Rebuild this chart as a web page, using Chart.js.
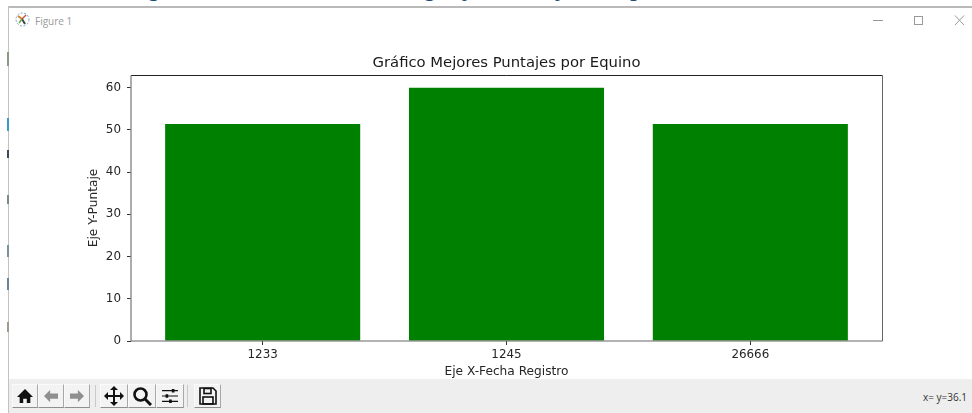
<!DOCTYPE html>
<html><head><meta charset="utf-8">
<script src="https://cdn.jsdelivr.net/npm/chart.js@4"></script>
<style>
html,body{margin:0;padding:0;background:#fff;overflow:hidden}
body{width:972px;height:413px;position:relative;font-family:"DejaVu Sans",sans-serif}
.abs{position:absolute}
#frameTop{left:8px;top:6px;width:964px;height:1.5px;background:#b9b9b9}
#frameLeft{left:7.5px;top:6px;width:1.5px;height:407px;background:#c2c2c2}
#heading{left:0;top:0;width:972px;height:6px;overflow:hidden}
#heading span{position:absolute;top:-29px;font:italic 27px "Liberation Serif",serif;color:#1f4e79}
#chartBox{left:41px;top:0;width:931px;height:379px}
#toolbar{left:9px;top:379px;width:963px;height:34px;background:#eeeeee}
#winTitle{left:35px;top:14px;font:10px "Open Sans",sans-serif;color:#9a9a9a}
#status{right:5px;top:390px;font:10px "Open Sans",sans-serif;color:#333}
.btn{position:absolute;top:384px;height:24px;background:#f3f3f3;border-top:1px solid #fafafa;border-left:1px solid #fafafa;border-right:1px solid #a8a8a8;border-bottom:1px solid #8e8e8e;box-sizing:border-box}
.btn svg{position:absolute;left:50%;top:50%;transform:translate(-50%,-50%)}
.sep{position:absolute;top:385px;width:1px;height:22px;background:#c9c9c9}
</style></head><body>
<div class="abs" id="heading"><span style="left:149px">g</span><span style="left:425px">g</span><span style="left:465px">j</span><span style="left:558px">j</span><span style="left:632px">p</span></div>
<div class="abs" id="frameTop"></div><div class="abs" id="frameLeft"></div>
<div class="abs" style="left:7px;top:52px;width:2px;height:14px;background:#8a9a84"></div>
<div class="abs" style="left:7px;top:118px;width:2px;height:13px;background:#3a9ac8"></div>
<div class="abs" style="left:7px;top:150px;width:2px;height:8px;background:#3b4a5a"></div>
<div class="abs" style="left:7px;top:195px;width:2px;height:9px;background:#7c8a88"></div>
<div class="abs" style="left:7px;top:245px;width:2px;height:12px;background:#7e909c"></div>
<div class="abs" style="left:7px;top:278px;width:2px;height:12px;background:#6f8596"></div>
<div class="abs" style="left:7px;top:322px;width:2px;height:10px;background:#a09a90"></div>
<svg class="abs" style="left:15px;top:12px" width="15" height="15" viewBox="0 0 15 15"><circle cx="7.5" cy="7.5" r="6.5" fill="#fff" stroke="#7aa6c8" stroke-dasharray="2 1.5"/><path d="M7 7L3 4" stroke="#d9822b" stroke-width="2"/><path d="M7 7L11 3" stroke="#c8553d" stroke-width="1.5"/><path d="M7 7L10 12" stroke="#444" stroke-width="2"/><path d="M7 7L4 11" stroke="#6aa84f" stroke-width="1.5"/></svg>
<div class="abs" id="winTitle">Figure 1</div>
<svg class="abs" style="left:870px;top:12px" width="96" height="16" fill="none" stroke="#9a9a9a"><path d="M3 8.5H13"/><rect x="44.5" y="4.5" width="8" height="8"/><path d="M85 3.5L94 13M94 3.5L85 13"/></svg>
<div class="abs" id="chartBox"><canvas id="c" width="931" height="379" style="width:931px;height:379px;display:block"></canvas></div>
<div class="abs" id="toolbar"></div>
<div class="btn" style="left:12px;width:26px"><svg width="18" height="16" viewBox="0 0 20 18"><path d="M10 1L1 10h3v7h4v-5h4v5h4v-7h3z" fill="#111"/></svg></div>
<div class="btn" style="left:38px;width:26px"><svg width="18" height="14" viewBox="0 0 20 16"><path d="M9 1L2 8l7 7v-4h9V5H9z" fill="#8f8f8f"/></svg></div>
<div class="btn" style="left:64px;width:26px"><svg width="18" height="14" viewBox="0 0 20 16"><path d="M11 1l7 7-7 7v-4H2V5h9z" fill="#8f8f8f"/></svg></div>
<div class="sep" style="left:95px"></div>
<div class="btn" style="left:100px;width:28px"><svg width="20" height="20" viewBox="0 0 20 20" fill="#111"><path d="M10 0l4 4h-3v5h5V6l4 4-4 4v-3h-5v5h3l-4 4-4-4h3v-5H4v3l-4-4 4-4v3h5V4H6z"/></svg></div>
<div class="btn" style="left:128px;width:28px"><svg width="20" height="20" viewBox="0 0 20 20" fill="none" stroke="#111"><circle cx="8.5" cy="8.5" r="6" stroke-width="2.6"/><path d="M13 13l6 6" stroke-width="3"/></svg></div>
<div class="btn" style="left:156px;width:28px"><svg width="18" height="16" viewBox="0 0 20 18" stroke="#111"><path d="M1 3h18M1 9h18M1 15h18" stroke-width="1.3"/><path d="M12 3h3M5 9h3M9 15h3" stroke-width="4"/></svg></div>
<div class="sep" style="left:187px"></div>
<div class="btn" style="left:194px;width:27px"><svg width="18" height="18" viewBox="0 0 18 18" fill="none" stroke="#111" stroke-width="1.6"><path d="M2 1h12l3 3v13H1V1z"/><rect x="5" y="1.5" width="7" height="5"/><rect x="4" y="10" width="10" height="7"/></svg></div>
<div class="abs" id="status">x= y=36.1</div>
<script>
const categories = ["1233", "1245", "26666"];
const scores = [51.4, 60, 51.4];
const yTicks = [0, 10, 20, 30, 40, 50, 60];
const chartTitle = "Gráfico Mejores Puntajes por Equino";
const xTitle = "Eje X-Fecha Registro";
const yTitle = "Eje Y-Puntaje";

const family = '"DejaVu Sans", sans-serif';
const tickFont = {family, size: 11.9};
const labelFont = {family, size: 12.2};
const ink = "#262626";
const frame = {
  id: "frame",
  afterDatasetsDraw(chart) {
    const {ctx, chartArea: a} = chart;
    const top = Math.round(a.top) + 0.5, right = Math.round(a.right) + 0.5;
    const line = (x1, y1, x2, y2, color, w) => {
      ctx.save(); ctx.strokeStyle = color; ctx.lineWidth = w;
      ctx.beginPath(); ctx.moveTo(x1, y1); ctx.lineTo(x2, y2); ctx.stroke(); ctx.restore();
    };
    line(a.left, top, right, top, "#222", 1);
    line(right, top, right, a.bottom, "#666", 1);
    line(a.left, top, a.left, a.bottom, "#8a8a8a", 1.4);
    line(a.left, a.bottom, right, a.bottom, "#666", 1.2);
  }
};
new Chart(document.getElementById("c"), {
  type: "bar",
  data: {datasets: [{
    data: scores.map((v, i) => ({x: i, y: v})),
    backgroundColor: "#008000",
    borderWidth: 0,
    barPercentage: 0.8,
    categoryPercentage: 1
  }]},
  plugins: [frame],
  options: {
    responsive: false,
    animation: false,
    layout: {padding: 0},
    plugins: {
      legend: {display: false},
      tooltip: {enabled: false},
      title: {display: true, text: chartTitle, color: "#1a1a1a",
              font: {family, size: 14.8, weight: "normal"},
              padding: {top: 54, bottom: 3.24}}
    },
    scales: {
      x: {
        type: "linear", offset: false, min: -0.54, max: 2.54,
        afterBuildTicks: s => { s.ticks = categories.map((_, i) => ({value: i})); },
        ticks: {callback: v => categories[v], color: ink, font: tickFont, padding: 3, maxRotation: 0},
        grid: {drawOnChartArea: false, offset: false, tickLength: 4, tickColor: "#333"},
        border: {display: false},
        title: {display: true, text: xTitle, color: ink, font: labelFont, padding: {top: 3, bottom: 0}},
        afterFit: s => { s.height = 38; }
      },
      y: {
        min: 0, max: 63,
        afterBuildTicks: s => { s.ticks = yTicks.map(v => ({value: v})); },
        ticks: {color: ink, font: tickFont, padding: 6},
        grid: {drawOnChartArea: false, tickLength: 4, tickColor: "#333"},
        border: {display: false},
        title: {display: true, text: yTitle, color: ink, font: labelFont, padding: {top: 46, bottom: 0}},
        afterFit: s => { s.width = 90; }
      },
      yMirror: {
        position: "right", min: 0, max: 63,
        ticks: {display: false},
        grid: {display: false},
        border: {display: false},
        afterFit: s => { s.width = 90; }
      }
    }
  }
});
</script>
</body></html>
